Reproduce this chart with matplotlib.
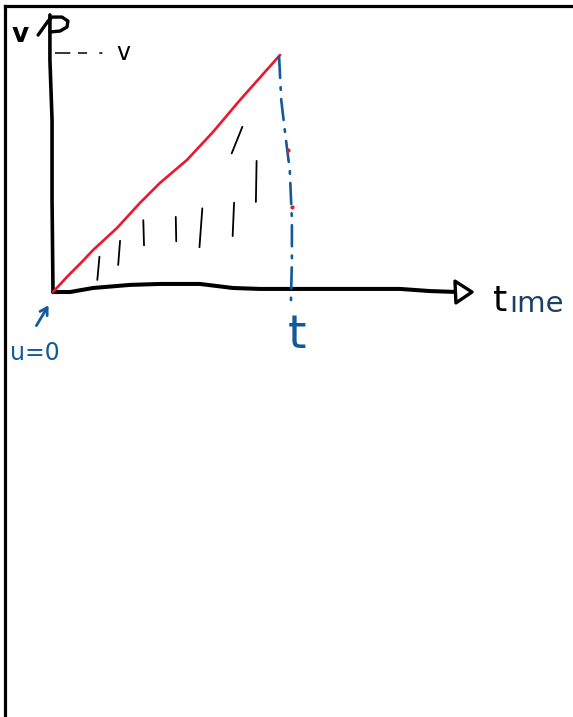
import matplotlib
matplotlib.use("Agg")
import matplotlib.pyplot as plt
from matplotlib.lines import Line2D
from matplotlib.patches import Polygon

# Sketch of a velocity-time graph for uniform acceleration from rest.
# Units: time in multiples of t, velocity in multiples of v.

# hand-drawn velocity line (origin to (t, v))
vel_time = [0.0, 0.063, 0.122, 0.169, 0.270, 0.367, 0.451, 0.565, 0.675, 0.789, 0.958]
vel_value = [0.0, 0.068, 0.127, 0.177, 0.270, 0.376, 0.460, 0.557, 0.675, 0.810, 1.0]

# hand-drawn time axis
taxis_time = [0.0, 0.072, 0.169, 0.325, 0.451, 0.620, 0.759, 0.873, 1.084, 1.464, 1.591, 1.709]
taxis_value = [0.0, 0.0, 0.017, 0.030, 0.034, 0.034, 0.017, 0.013, 0.013, 0.013, 0.004, 0.0]

# hand-drawn velocity axis
vaxis_time = [-0.013, -0.013, -0.004, -0.004, 0.0]
vaxis_value = [1.169, 0.979, 0.726, 0.388, 0.0]

# loop-shaped arrow head at top of the velocity axis
vhead_time = [-0.063, -0.021, -0.004, 0.038, 0.063, 0.059, 0.030, -0.013]
vhead_value = [1.084, 1.143, 1.160, 1.160, 1.143, 1.118, 1.101, 1.097]

# open triangle arrow head on the time axis
thead_time = [1.696, 1.768, 1.700]
thead_value = [0.046, 0.0, -0.046]

# dashed drop line from (t, v) down to the time axis
drop_time = [0.954, 0.963, 0.983, 0.999, 1.008, 1.008, 1.004]
drop_value = [0.992, 0.810, 0.641, 0.515, 0.304, 0.135, -0.034]

# red specks left on the drop line
speck_time = [0.992, 1.008]
speck_value = [0.599, 0.359]

# dashed guide to the v mark on the velocity axis
guide_time = [0.008, 0.215]
guide_value = [1.008, 1.008]

# hatch strokes shading the area under the line: (t0, v0, t1, v1)
hatch_strokes = [
    (0.196, 0.149, 0.187, 0.051),
    (0.283, 0.216, 0.275, 0.114),
    (0.381, 0.303, 0.384, 0.197),
    (0.518, 0.317, 0.520, 0.214),
    (0.630, 0.353, 0.618, 0.189),
    (0.764, 0.377, 0.758, 0.236),
    (0.859, 0.553, 0.856, 0.380),
    (0.799, 0.697, 0.754, 0.585),
]

# initial-velocity pointer (tail -> tip)
pointer_tail = (-0.076, -0.152)
pointer_tip = (-0.013, -0.046)

RED = "#e8192c"
BLUE = "#135a98"
NAVY = "#1b3f66"

fig = plt.figure(figsize=(5.73, 7.17), dpi=100)
ax = fig.add_axes([0, 0, 1, 1])
ax.set_xlim(-0.2236, 2.194)
ax.set_ylim(-1.793, 1.232)
ax.axis("off")

# page frame (top and left edges)
fig.add_artist(Line2D([4.5 / 573, 4.5 / 573], [0, 1 - 6 / 717],
                      transform=fig.transFigure, color="black", lw=2.3))
fig.add_artist(Line2D([4.5 / 573, 1], [1 - 6 / 717, 1 - 6 / 717],
                      transform=fig.transFigure, color="black", lw=2.3))

# axes
ax.plot(taxis_time, taxis_value, color="black", lw=2.9,
        solid_capstyle="round", solid_joinstyle="round")
ax.plot(vaxis_time, vaxis_value, color="black", lw=2.6,
        solid_capstyle="round", solid_joinstyle="round")
ax.plot(vhead_time, vhead_value, color="black", lw=2.4,
        solid_capstyle="round", solid_joinstyle="round")
ax.add_patch(Polygon(list(zip(thead_time, thead_value)), closed=True,
                     facecolor="white", edgecolor="black", lw=2.4,
                     joinstyle="round", zorder=3))

# shading strokes
for t0, v0, t1, v1 in hatch_strokes:
    ax.plot([t0, t1], [v0, v1], color="black", lw=1.3, solid_capstyle="round")

# velocity line
ax.plot(vel_time, vel_value, color=RED, lw=1.9,
        solid_capstyle="round", solid_joinstyle="round", zorder=4)

# drop line at time t
ax.plot(drop_time, drop_value, color=BLUE, lw=1.9,
        linestyle=(0, (8, 3.5, 1, 3.5)), dash_capstyle="round", zorder=4)
ax.plot(speck_time, speck_value, linestyle="none", marker="o",
        ms=2, color=RED, zorder=5)

# guide line to v
ax.plot(guide_time, guide_value, color="black", lw=1.1,
        linestyle=(0, (10, 5, 6, 8, 2)))

# labels
ax.text(-0.139, 1.084, "v", fontsize=19, fontweight="bold", color="black",
        ha="center", va="center", family="DejaVu Sans")
ax.text(0.295, 1.008, "v", fontsize=17, color="black",
        ha="center", va="center", family="DejaVu Sans")
t_lbl = ax.text(1.857, -0.080, "t", fontsize=26, color="black",
                ha="left", va="baseline", family="DejaVu Sans")
ax.annotate("ıme", xy=(1, 0), xycoords=t_lbl, xytext=(1, 0),
            textcoords="offset points", fontsize=21, color=NAVY,
            ha="left", va="bottom", family="DejaVu Sans")
ax.text(1.030, -0.236, "t", fontsize=34, color=BLUE,
        ha="center", va="baseline", family="DejaVu Sans")
ax.text(-0.076, -0.287, "u=0", fontsize=17, color=BLUE,
        ha="center", va="baseline", family="DejaVu Sans")

ax.annotate("", xy=pointer_tip, xytext=pointer_tail,
            arrowprops=dict(arrowstyle="->,head_length=0.5,head_width=0.3",
                            color=BLUE, lw=2))

fig.savefig("out.png", dpi=100)
